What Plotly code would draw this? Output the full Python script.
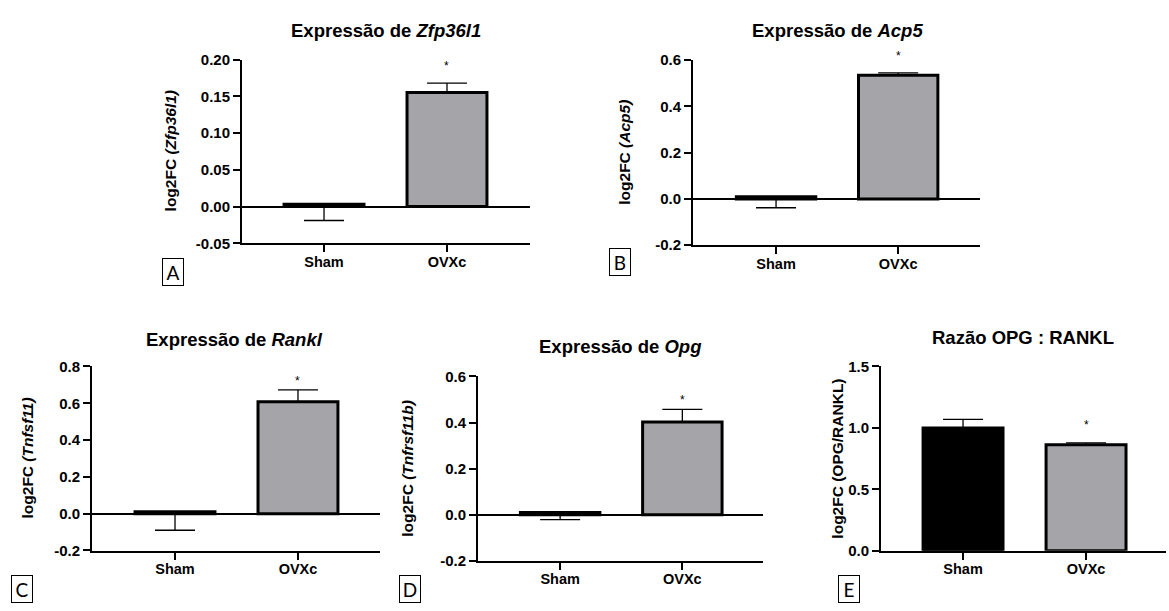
import plotly.graph_objects as go

# ---------------- data ----------------
groups = ["Sham", "OVXc"]

zfp_mean = [0.003, 0.155]
zfp_err_up = [0.0, 0.013]
zfp_err_down = [0.022, 0.0]

acp_mean = [0.010, 0.535]
acp_err_up = [0.0, 0.010]
acp_err_down = [0.048, 0.0]

rankl_mean = [0.010, 0.608]
rankl_err_up = [0.0, 0.065]
rankl_err_down = [0.100, 0.0]

opg_mean = [0.010, 0.402]
opg_err_up = [0.0, 0.055]
opg_err_down = [0.031, 0.0]

ratio_mean = [1.000, 0.862]
ratio_err_up = [0.069, 0.016]
ratio_err_down = [0.0, 0.0]

# significance marker height (data units) over OVXc
star_y = [0.191, 0.620, 0.720, 0.496, 1.025]

zfp_ticks = [-0.05, 0.0, 0.05, 0.10, 0.15, 0.20]
zfp_ticktext = ["-0.05", "0.00", "0.05", "0.10", "0.15", "0.20"]
acp_ticks = [-0.2, 0.0, 0.2, 0.4, 0.6]
acp_ticktext = ["-0.2", "0.0", "0.2", "0.4", "0.6"]
rankl_ticks = [-0.2, 0.0, 0.2, 0.4, 0.6, 0.8]
rankl_ticktext = ["-0.2", "0.0", "0.2", "0.4", "0.6", "0.8"]
opg_ticks = [-0.2, 0.0, 0.2, 0.4, 0.6]
opg_ticktext = ["-0.2", "0.0", "0.2", "0.4", "0.6"]
ratio_ticks = [0.0, 0.5, 1.0, 1.5]
ratio_ticktext = ["0.0", "0.5", "1.0", "1.5"]

titles = [
    "Expressão de <i>Zfp36l1</i>",
    "Expressão de <i>Acp5</i>",
    "Expressão de <i>Rankl</i>",
    "Expressão de <i>Opg</i>",
    "Razão OPG : RANKL",
]
ylabels = [
    "log2FC <i>(Zfp36l1)</i>",
    "log2FC <i>(Acp5)</i>",
    "log2FC <i>(Tnfsf11)</i>",
    "log2FC <i>(Tnfrsf11b)</i>",
    "log2FC (OPG/RANKL)",
]
panel_letters = ["A", "B", "C", "D", "E"]

# ---------------- layout helpers ----------------
W, H = 1169, 611
BLACK = "#000000"
GRAY = "#a4a4a9"
FONT = "Liberation Sans, Arial, sans-serif"


def fx(p):
    return p / W


def fy(p):
    return 1 - p / H


def bold(t):
    return "<b>" + t + "</b>"


panels = [
    dict(mean=zfp_mean, up=zfp_err_up, dn=zfp_err_down, ticks=zfp_ticks, tt=zfp_ticktext,
         xpx=(242, 530), ypx=(52, 241), xr=(-0.667, 1.675), zero=True,
         title_px=(386, 22), ylab_x=170, box=(172.5, 270.5)),
    dict(mean=acp_mean, up=acp_err_up, dn=acp_err_down, ticks=acp_ticks, tt=acp_ticktext,
         xpx=(693, 980), ypx=(52.7, 243), xr=(-0.68, 1.67), zero=True,
         title_px=(837, 22), ylab_x=625, box=(620, 260.5)),
    dict(mean=rankl_mean, up=rankl_err_up, dn=rankl_err_down, ticks=rankl_ticks, tt=rankl_ticktext,
         xpx=(92, 380), ypx=(367.7, 557), xr=(-0.675, 1.667), zero=True,
         title_px=(235, 340), ylab_x=27, box=(21.5, 597)),
    dict(mean=opg_mean, up=opg_err_up, dn=opg_err_down, ticks=opg_ticks, tt=opg_ticktext,
         xpx=(478, 763), ypx=(378, 567.7), xr=(-0.672, 1.66), zero=True,
         title_px=(620, 347), ylab_x=408, box=(409.5, 597)),
    dict(mean=ratio_mean, up=ratio_err_up, dn=ratio_err_down, ticks=ratio_ticks, tt=ratio_ticktext,
         xpx=(881, 1166), ypx=(367.7, 557.3), xr=(-0.667, 1.65), zero=False,
         title_px=(1023, 338), ylab_x=838, box=(848.5, 597)),
]

fig = go.Figure()
annotations = []
layout = dict(
    width=W, height=H,
    margin=dict(l=0, r=0, t=0, b=0),
    paper_bgcolor="white", plot_bgcolor="white",
    showlegend=False,
    font=dict(family=FONT, color=BLACK),
)

for i, p in enumerate(panels):
    s = "" if i == 0 else str(i + 1)
    xa, ya = "x" + s, "y" + s
    fig.add_trace(go.Bar(
        x=groups, y=p["mean"], width=0.65,
        xaxis=xa, yaxis=ya,
        marker=dict(color=[BLACK, GRAY], line=dict(color=BLACK, width=3)),
        error_y=dict(type="data", symmetric=False, array=p["up"], arrayminus=p["dn"],
                     color=BLACK, thickness=1.3, width=20),
        hoverinfo="skip",
    ))
    ydom = [fy(p["ypx"][1]), fy(p["ypx"][0])]
    yr = [p["ticks"][0], p["ticks"][-1]]
    layout["xaxis" + s] = dict(
        domain=[fx(p["xpx"][0]), fx(p["xpx"][1])], range=list(p["xr"]), anchor=ya,
        type="category", showline=True, linecolor=BLACK, linewidth=2,
        ticks="outside", ticklen=7, tickwidth=2, tickcolor=BLACK,
        tickvals=groups, ticktext=[bold(g) for g in groups], ticklabelstandoff=-3,
        tickfont=dict(family=FONT, size=14.5, color=BLACK),
        showgrid=False, zeroline=False, fixedrange=True,
    )
    layout["yaxis" + s] = dict(
        domain=ydom, range=yr, anchor=xa,
        showline=True, linecolor=BLACK, linewidth=2,
        ticks="outside", ticklen=7, tickwidth=2, tickcolor=BLACK,
        tickvals=p["ticks"], ticktext=[bold(t) for t in p["tt"]],
        tickfont=dict(family=FONT, size=15, color=BLACK),
        showgrid=False, zeroline=p["zero"], zerolinecolor=BLACK, zerolinewidth=1.6,
        fixedrange=True,
    )
    # title
    annotations.append(dict(
        text=bold(titles[i]), xref="paper", yref="paper",
        x=fx(p["title_px"][0]), y=fy(p["title_px"][1]),
        xanchor="center", yanchor="middle", showarrow=False,
        font=dict(family=FONT, size=18.5, color=BLACK),
    ))
    # y axis label
    annotations.append(dict(
        text=bold(ylabels[i]), xref="paper", yref="paper",
        x=fx(p["ylab_x"]), y=fy((p["ypx"][0] + p["ypx"][1]) / 2),
        xanchor="center", yanchor="middle", textangle=-90, showarrow=False,
        font=dict(family=FONT, size=15.5, color=BLACK),
    ))
    # significance asterisk (y converted from data units to the axis' paper span)
    star_paper = ydom[0] + (star_y[i] - yr[0]) / (yr[1] - yr[0]) * (ydom[1] - ydom[0])
    annotations.append(dict(
        text="*", xref=xa, yref="paper", x=groups[1], y=star_paper,
        xanchor="center", yanchor="middle", showarrow=False,
        font=dict(family=FONT, size=12, color=BLACK),
    ))
    # panel letter box
    annotations.append(dict(
        text=panel_letters[i], xref="paper", yref="paper",
        x=fx(p["box"][0]), y=fy(p["box"][1]),
        xanchor="center", yanchor="middle", showarrow=False,
        width=18, height=24, borderpad=1, bordercolor=BLACK, borderwidth=1,
        font=dict(family="Lato, Noto Sans, sans-serif", size=19, color=BLACK),
    ))

layout["annotations"] = annotations
fig.update_layout(**layout)
fig.write_html("out.html")
